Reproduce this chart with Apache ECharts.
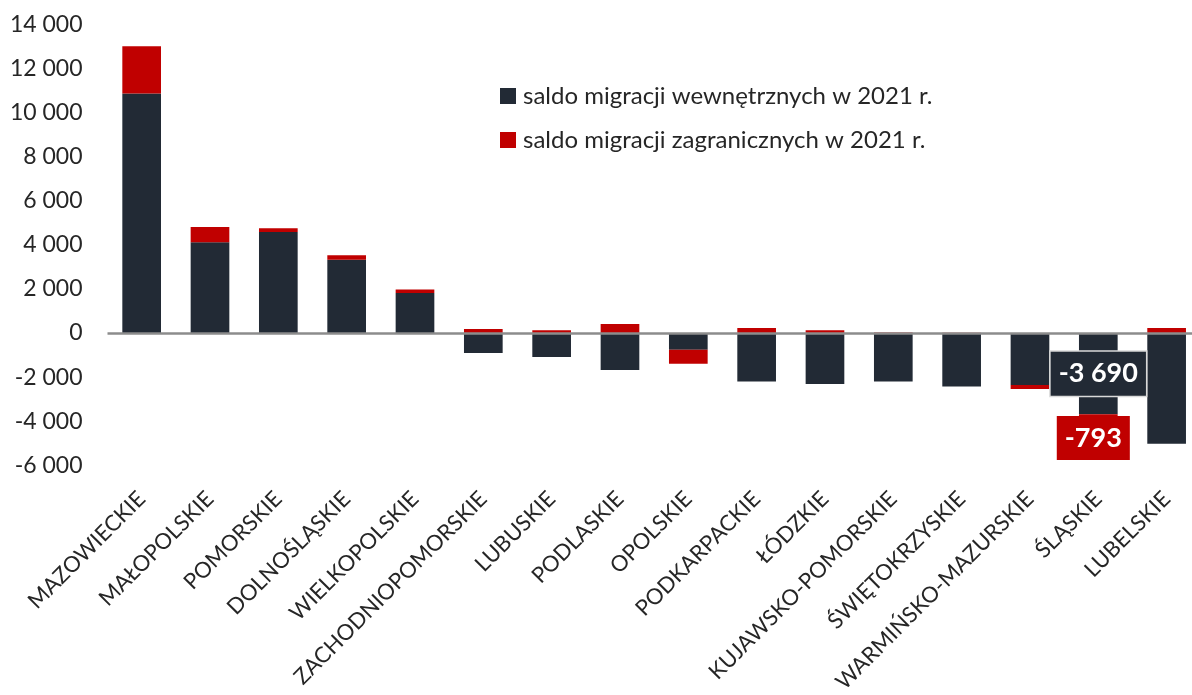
<!DOCTYPE html>
<html><head><meta charset="utf-8">
<script src="https://cdn.jsdelivr.net/npm/echarts@6/dist/echarts.min.js"></script>
<style>html,body{margin:0;padding:0;background:#fff}#c{width:1192px;height:695px}</style>
</head><body><div id="c"></div>
<script>
const categories = ['MAZOWIECKIE','MAŁOPOLSKIE','POMORSKIE','DOLNOŚLĄSKIE','WIELKOPOLSKIE','ZACHODNIOPOMORSKIE','LUBUSKIE','PODLASKIE','OPOLSKIE','PODKARPACKIE','ŁÓDZKIE','KUJAWSKO-POMORSKIE','ŚWIĘTOKRZYSKIE','WARMIŃSKO-MAZURSKIE','ŚLĄSKIE','LUBELSKIE'];
const internalMig = [10860, 4120, 4580, 3320, 1810, -905, -1085, -1675, -755, -2205, -2310, -2205, -2430, -2355, -3690, -5025];
const foreignMig = [2140, 690, 170, 210, 165, 180, 120, 410, -635, 225, 120, 20, 10, -180, -793, 225];
const seriesNames = ['saldo migracji wewnętrznych w 2021 r.', 'saldo migracji zagranicznych w 2021 r.'];
const labelledCategory = 'ŚLĄSKIE';
const yTicks = {min: -6000, max: 14000, interval: 2000};

const FONT = 'Lato';
const DARK = '#222a35';
const RED = '#c00000';
const TXT = '#262626';
function fmt(v){
  const s = String(Math.abs(Math.round(v))).replace(/\B(?=(\d{3})+(?!\d))/g, ' ');
  return (v < 0 ? '-' : '') + s;
}
const li = categories.indexOf(labelledCategory);
const darkData = internalMig.map((v,i)=> i===li ? {value:v, label:{show:true, position:'inside', formatter:p=>fmt(p.value), color:'#fff', fontFamily:FONT, fontSize:27, fontWeight:'bold', lineHeight:29, backgroundColor:DARK, borderColor:'#d9d9d9', borderWidth:1.5, padding:[8,8,7,8]}} : v);
const redData = foreignMig.map((v,i)=> i===li ? {value:v, label:{show:true, position:'inside', offset:[-5,15], formatter:p=>fmt(p.value), color:'#fff', fontFamily:FONT, fontSize:27, fontWeight:'bold', lineHeight:29, backgroundColor:RED, padding:[8,8,7,8]}} : v);

const chart = echarts.init(document.getElementById('c'), null, {renderer:'canvas'});
chart.setOption({
  animation:false,
  backgroundColor:'#fff',
  grid:{left:107.5, top:24.3, width:1093.3, height:441, containLabel:false, outerBoundsMode:'none'},
  legend:{
    orient:'vertical', left:495, top:79, itemWidth:16, itemHeight:16, itemGap:20,
    icon:'rect',
    textStyle:{fontFamily:FONT, fontSize:24, color:TXT, padding:[0,0,0,2]},
    data:seriesNames
  },
  xAxis:{
    type:'category', data:categories,
    axisLine:{show:false, onZero:false}, axisTick:{show:false},
    axisLabel:{interval:0, rotate:45, margin:30, fontFamily:FONT, fontSize:22, color:TXT}
  },
  yAxis:{
    type:'value', min:yTicks.min, max:yTicks.max, interval:yTicks.interval,
    splitLine:{show:false}, axisLine:{show:false}, axisTick:{show:false},
    axisLabel:{margin:25, fontFamily:FONT, fontSize:23, color:TXT, formatter:v=>fmt(v)}
  },
  series:[
    {name:seriesNames[0], type:'bar', stack:'s', barWidth:'56.6%', data:darkData, itemStyle:{color:DARK},
     markLine:{silent:true, symbol:'none', label:{show:false}, lineStyle:{color:'#8c8c8c', width:2.5, type:'solid'}, data:[{yAxis:0}], z:10}},
    {name:seriesNames[1], type:'bar', stack:'s', barWidth:'56.6%', data:redData, itemStyle:{color:RED}}
  ]
});
</script></body></html>
